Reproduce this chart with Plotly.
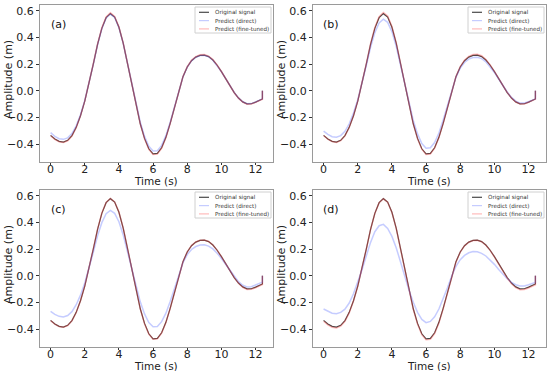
import plotly.graph_objects as go

# ---------------- data ----------------
time_s = [0.0, 0.25, 0.5, 0.75, 1.0, 1.25, 1.5, 1.75, 2.0, 2.25,
          2.5, 2.75, 3.0, 3.25, 3.5, 3.75, 4.0, 4.25, 4.5, 4.75,
          5.0, 5.25, 5.5, 5.75, 6.0, 6.25, 6.5, 6.75, 7.0, 7.25,
          7.5, 7.75, 8.0, 8.25, 8.5, 8.75, 9.0, 9.25, 9.5, 9.75,
          10.0, 10.25, 10.5, 10.75, 11.0, 11.25, 11.5, 11.75, 12.0, 12.25,
          12.4, 12.4]

original = [-0.335, -0.362, -0.380, -0.385, -0.372, -0.337, -0.275, -0.188, -0.078, 0.052,
            0.200, 0.348, 0.468, 0.548, 0.578, 0.552, 0.476, 0.357, 0.205, 0.040,
            -0.112, -0.248, -0.358, -0.436, -0.474, -0.471, -0.428, -0.350, -0.245, -0.125,
            0.000, 0.105, 0.178, 0.225, 0.252, 0.265, 0.267, 0.256, 0.230, 0.191,
            0.143, 0.090, 0.035, -0.014, -0.055, -0.084, -0.099, -0.098, -0.086, -0.073,
            -0.062, 0.000]

direct_a = [-0.315, -0.343, -0.360, -0.365, -0.354, -0.322, -0.263, -0.180, -0.073, 0.052,
            0.198, 0.345, 0.465, 0.545, 0.575, 0.549, 0.473, 0.355, 0.205, 0.042,
            -0.107, -0.237, -0.343, -0.417, -0.453, -0.451, -0.410, -0.337, -0.237, -0.120,
            0.002, 0.105, 0.177, 0.224, 0.251, 0.264, 0.266, 0.255, 0.229, 0.190,
            0.143, 0.090, 0.036, -0.013, -0.054, -0.083, -0.098, -0.097, -0.085, -0.072,
            -0.061, 0.000]
direct_b = [-0.303, -0.328, -0.345, -0.349, -0.337, -0.305, -0.248, -0.168, -0.067, 0.053,
            0.189, 0.325, 0.436, 0.509, 0.537, 0.513, 0.443, 0.333, 0.194, 0.042,
            -0.098, -0.223, -0.324, -0.396, -0.431, -0.428, -0.389, -0.317, -0.220, -0.110,
            0.005, 0.102, 0.169, 0.212, 0.237, 0.249, 0.251, 0.241, 0.217, 0.181,
            0.137, 0.088, 0.037, -0.010, -0.050, -0.078, -0.093, -0.093, -0.083, -0.071,
            -0.061, 0.000]
direct_c = [-0.268, -0.290, -0.305, -0.310, -0.299, -0.270, -0.218, -0.146, -0.055, 0.053,
            0.176, 0.299, 0.398, 0.465, 0.490, 0.468, 0.405, 0.306, 0.180, 0.043,
            -0.083, -0.196, -0.287, -0.352, -0.383, -0.381, -0.345, -0.281, -0.193, -0.094,
            0.010, 0.097, 0.158, 0.197, 0.219, 0.230, 0.232, 0.222, 0.201, 0.169,
            0.129, 0.085, 0.039, -0.005, -0.045, -0.072, -0.085, -0.083, -0.070, -0.058,
            -0.048, 0.000]
direct_d = [-0.250, -0.268, -0.281, -0.285, -0.275, -0.251, -0.205, -0.135, -0.050, 0.045,
            0.148, 0.250, 0.330, 0.375, 0.385, 0.355, 0.295, 0.210, 0.105, -0.005,
            -0.110, -0.200, -0.275, -0.328, -0.352, -0.343, -0.308, -0.250, -0.175, -0.090,
            -0.002, 0.070, 0.120, 0.152, 0.172, 0.182, 0.180, 0.168, 0.148, 0.120,
            0.085, 0.047, 0.010, -0.023, -0.050, -0.068, -0.078, -0.077, -0.068, -0.057,
            -0.050, 0.000]

finetuned_a = [-0.338, -0.365, -0.383, -0.389, -0.376, -0.340, -0.277, -0.189, -0.078, 0.053,
               0.202, 0.351, 0.472, 0.553, 0.584, 0.557, 0.480, 0.359, 0.206, 0.040,
               -0.113, -0.250, -0.361, -0.440, -0.479, -0.476, -0.432, -0.353, -0.247, -0.126,
               0.000, 0.106, 0.180, 0.228, 0.256, 0.269, 0.271, 0.260, 0.233, 0.193,
               0.144, 0.090, 0.035, -0.015, -0.056, -0.086, -0.101, -0.100, -0.088, -0.075,
               -0.064, 0.000]
finetuned_b = [-0.336, -0.364, -0.382, -0.388, -0.375, -0.339, -0.276, -0.188, -0.077, 0.054,
               0.203, 0.352, 0.474, 0.556, 0.587, 0.560, 0.482, 0.360, 0.207, 0.041,
               -0.112, -0.249, -0.360, -0.439, -0.478, -0.475, -0.431, -0.352, -0.246, -0.125,
               0.001, 0.107, 0.181, 0.229, 0.258, 0.271, 0.273, 0.262, 0.234, 0.194,
               0.145, 0.091, 0.036, -0.014, -0.055, -0.085, -0.100, -0.099, -0.087, -0.074,
               -0.063, 0.000]
finetuned_c = [-0.337, -0.364, -0.382, -0.387, -0.374, -0.338, -0.276, -0.188, -0.077, 0.053,
               0.201, 0.349, 0.470, 0.550, 0.580, 0.554, 0.478, 0.358, 0.206, 0.041,
               -0.112, -0.249, -0.360, -0.438, -0.477, -0.474, -0.430, -0.351, -0.246, -0.125,
               0.000, 0.105, 0.179, 0.226, 0.253, 0.266, 0.268, 0.257, 0.231, 0.192,
               0.143, 0.090, 0.035, -0.015, -0.057, -0.087, -0.103, -0.102, -0.090, -0.077,
               -0.066, 0.000]
finetuned_d = [-0.342, -0.369, -0.387, -0.392, -0.379, -0.342, -0.279, -0.190, -0.079, 0.051,
               0.199, 0.347, 0.467, 0.547, 0.577, 0.551, 0.475, 0.355, 0.203, 0.038,
               -0.115, -0.252, -0.363, -0.442, -0.481, -0.478, -0.434, -0.355, -0.249, -0.128,
               -0.002, 0.103, 0.177, 0.224, 0.251, 0.264, 0.266, 0.255, 0.229, 0.190,
               0.141, 0.087, 0.032, -0.018, -0.060, -0.090, -0.105, -0.104, -0.092, -0.079,
               -0.068, 0.000]

panel_labels = ["(a)", "(b)", "(c)", "(d)"]
series_names = ["Original signal", "Predict (direct)", "Predict (fine-tuned)"]
x_ticks = [0, 2, 4, 6, 8, 10, 12]
y_ticks = [-0.4, -0.2, 0.0, 0.2, 0.4, 0.6]
x_title = "Time (s)"
y_title = "Amplitude (m)"

directs = [direct_a, direct_b, direct_c, direct_d]
finetuned = [finetuned_a, finetuned_b, finetuned_c, finetuned_d]

# ---------------- style / layout ----------------
W, H = 550, 371
FONT = "DejaVu Sans"
colors = ["rgba(40,40,40,0.85)", "rgba(90,110,255,0.35)", "rgba(255,60,60,0.35)"]
widths = [1.2, 1.5, 1.5]

def px(x):
    return x / W

def py(y):
    return 1 - y / H

# plot areas in pixels: (left, right, top, bottom)
areas = [(40, 273, 5, 162), (313, 546, 5, 162), (40, 273, 190, 347), (313, 546, 190, 347)]

fig = go.Figure()
annotations = []
shapes = []

def ann(x, y, text, size, color="#222", xanchor="center", angle=0):
    return dict(x=px(x), y=py(y), xref="paper", yref="paper", text=text, showarrow=False,
                xanchor=xanchor, yanchor="middle", textangle=angle,
                font=dict(family=FONT, size=size, color=color))

for i in range(4):
    l, r, t, b = areas[i]
    sfx = "" if i == 0 else str(i + 1)
    xa, ya = "x" + sfx, "y" + sfx
    for k, ys in enumerate([original, directs[i], finetuned[i]]):
        fig.add_trace(go.Scatter(x=time_s, y=ys, mode="lines", xaxis=xa, yaxis=ya,
                                 line=dict(color=colors[k], width=widths[k]),
                                 name=series_names[k], showlegend=False))
    axcommon = dict(showline=True, mirror=True, linecolor="#9a9a9a", linewidth=1,
                    showgrid=False, zeroline=False, ticks="outside",
                    tickcolor="#333", tickwidth=1, automargin=False,
                    tickfont=dict(family=FONT, size=11, color="#222"))
    fig.layout["xaxis" + sfx] = dict(domain=[px(l), px(r)], anchor=ya, range=[-0.62, 13.02],
                                    tickvals=x_ticks, ticklen=2, ticklabelstandoff=-5, **axcommon)
    fig.layout["yaxis" + sfx] = dict(domain=[py(b), py(t)], anchor=xa, range=[-0.535, 0.643],
                                    tickvals=y_ticks, tickformat=".1f", ticklen=3, **axcommon)
    annotations.append(ann(l + 18, t + 19, panel_labels[i], 11, "#111"))
    annotations.append(ann((l + r) / 2 - 1, b + 18.5, x_title, 10.5))
    annotations.append(ann(l - 31.5, (t + b) / 2 - 4, y_title, 11, angle=-90))
    # legend box
    bl, br, bt, bb = r - 78, r - 2, t + 2, t + 28
    shapes.append(dict(type="rect", xref="paper", yref="paper",
                       x0=px(bl), x1=px(br), y0=py(bb), y1=py(bt),
                       line=dict(color="#d0d0d0", width=1), fillcolor="rgba(255,255,255,0.85)",
                       layer="above"))
    for k in range(3):
        ry = t + 7.3 + 8.3 * k
        shapes.append(dict(type="line", xref="paper", yref="paper",
                           x0=px(bl + 4), x1=px(bl + 14), y0=py(ry), y1=py(ry),
                           line=dict(color=colors[k], width=1.2), layer="above"))
        annotations.append(ann(bl + 18, ry, series_names[k], 5.6, "#333", xanchor="left"))

fig.update_layout(width=W, height=H, margin=dict(l=0, r=0, t=0, b=0, pad=0),
                  paper_bgcolor="white", plot_bgcolor="white",
                  annotations=annotations, shapes=shapes, showlegend=False)

fig.write_html("out.html", config={"displayModeBar": False},
               post_script="document.body.style.margin='0px';document.body.style.padding='0px';")
